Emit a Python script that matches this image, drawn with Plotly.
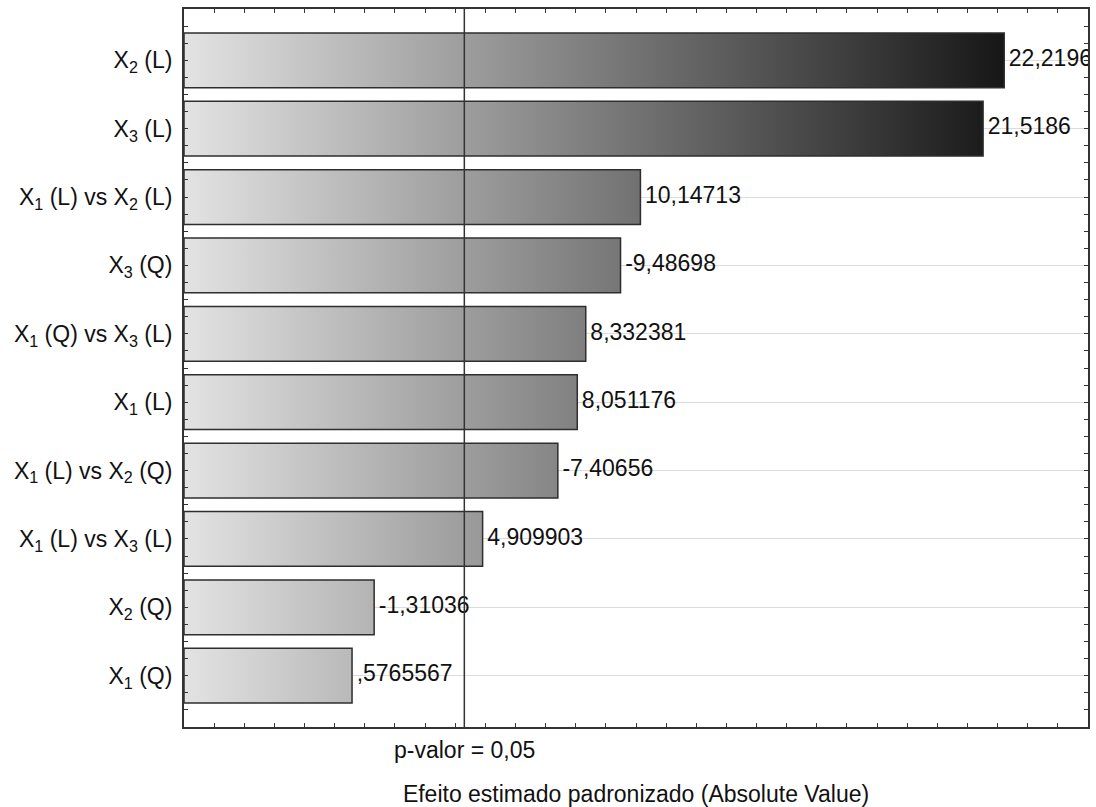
import plotly.graph_objects as go

# Pareto chart of standardized effects (absolute value)
terms = [
    "X<sub>2</sub> (L)",
    "X<sub>3</sub> (L)",
    "X<sub>1</sub> (L) vs X<sub>2</sub> (L)",
    "X<sub>3</sub> (Q)",
    "X<sub>1</sub> (Q) vs X<sub>3</sub> (L)",
    "X<sub>1</sub> (L)",
    "X<sub>1</sub> (L) vs X<sub>2</sub> (Q)",
    "X<sub>1</sub> (L) vs X<sub>3</sub> (L)",
    "X<sub>2</sub> (Q)",
    "X<sub>1</sub> (Q)",
]
effects = [22.2196, 21.5186, 10.14713, -9.48698, 8.332381,
           8.051176, -7.40656, 4.909903, -1.31036, 0.5765567]
t_critical = 4.303          # t value for p = 0.05
x_range = [-5, 25]

FONT = "Liberation Sans, Arial, sans-serif"
TEXT_COLOR = "#111111"
FS = 23

n = len(terms)
ypos = list(range(n, 0, -1))          # first term at the top
bar_half = 0.4
magnitudes = [abs(e) for e in effects]


def fmt(v):
    s = "{:.7g}".format(v)
    if s.startswith("0."):
        s = s[1:]
    elif s.startswith("-0."):
        s = "-" + s[2:]
    return s.replace(".", ",")


# bars as closed rectangles starting at the axis origin, one shared gradient
xs, ys = [], []
for m, y in zip(magnitudes, ypos):
    x0 = x_range[0]
    xs += [x0, m, m, x0, x0, None]
    ys += [y - bar_half, y - bar_half, y + bar_half, y + bar_half, y - bar_half, None]

fig = go.Figure()
fig.add_trace(go.Scatter(
    x=xs, y=ys, mode="lines", fill="toself",
    line=dict(color="#2e2e2e", width=1.5),
    fillgradient=dict(type="horizontal",
                      colorscale=[[0, "#e3e3e3"], [1, "#161616"]],
                      start=x_range[0], stop=max(magnitudes)),
    hoverinfo="skip", showlegend=False,
))

fig.add_trace(go.Scatter(
    x=magnitudes, y=ypos, mode="text",
    text=["\u2009" + fmt(e) for e in effects],
    textposition="middle right",
    textfont=dict(family=FONT, size=FS, color=TEXT_COLOR),
    cliponaxis=True, hoverinfo="skip", showlegend=False,
))

fig.add_shape(type="line", xref="x", yref="paper",
              x0=t_critical, x1=t_critical, y0=0, y1=1,
              line=dict(color="#333333", width=1.5), layer="above")

# value labels stop at the right frame of the plot area
fig.add_shape(type="rect", xref="paper", yref="paper",
              x0=1 + 2 / 906, x1=1.05, y0=-0.01, y1=1.01,
              line=dict(width=0), fillcolor="white", layer="above")

fig.add_annotation(x=t_critical, xref="x", y=0, yref="paper",
                   yanchor="top", yshift=-8, showarrow=False,
                   text="p-valor = 0,05",
                   font=dict(family=FONT, size=FS, color=TEXT_COLOR))

fig.update_layout(
    width=1096, height=807,
    margin=dict(l=184, r=6, t=9, b=79),
    paper_bgcolor="white", plot_bgcolor="white",
    font=dict(family=FONT, size=FS, color=TEXT_COLOR),
    xaxis=dict(
        range=x_range, tick0=0, dtick=1,
        ticks="inside", ticklen=4, tickcolor="#333333",
        showticklabels=False, showgrid=False, zeroline=False,
        showline=True, linecolor="#333333", linewidth=2, mirror="allticks",
        title=dict(text="Efeito estimado padronizado (Absolute Value)",
                   standoff=58, font=dict(size=FS)),
    ),
    yaxis=dict(
        range=[0.25, n + 0.75],
        tickvals=ypos, ticktext=terms,
        ticks="inside", ticklen=4, tickcolor="#333333",
        ticklabelstandoff=5,
        showgrid=True, gridcolor="#dcdcdc", gridwidth=1, zeroline=False,
        showline=True, linecolor="#333333", linewidth=2, mirror="allticks",
        minor=dict(tick0=0.25, dtick=0.25, ticks="inside", ticklen=4,
                   tickcolor="#333333", showgrid=False),
        tickfont=dict(family=FONT, size=FS, color=TEXT_COLOR),
    ),
)

fig.write_html("out.html")
